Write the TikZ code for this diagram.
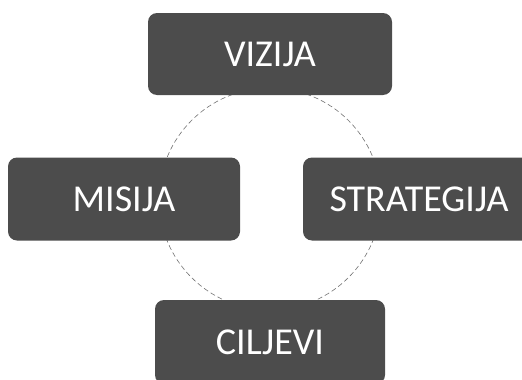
\documentclass[tikz,border=0pt]{standalone}
\usepackage{fontspec}
\setmainfont{Carlito}
\begin{document}
\begin{tikzpicture}[x=1pt,y=-1pt,
    goalbox/.style={draw=none,fill=black!70,rounded corners=9pt,inner sep=0pt,
      text=white,font=\fontsize{38}{44}\selectfont},
    ring/.style={draw=black!55,line width=0.6pt,dash pattern=on 5pt off 3pt}]
  \clip (0,0) rectangle (522,380);
  \useasboundingbox (0,0) rectangle (522,380);
  % dashed ring behind the boxes
  \node[circle,minimum size=222pt,inner sep=0pt] (ring) at (270,199) {};
  \draw[ring] (ring.center) circle[radius=111];
  \node[goalbox,minimum width=244pt,minimum height=82pt] (vizija) at (270,54) {VIZIJA};
  \node[goalbox,minimum width=232pt,minimum height=83pt] (misija) at (124,199) {MISIJA};
  \node[goalbox,minimum width=232pt,minimum height=83pt] (strategija) at (419,199) {STRATEGIJA};
  \node[goalbox,minimum width=230pt,minimum height=84pt] (ciljevi) at (270,342) {CILJEVI};
\end{tikzpicture}
\end{document}
